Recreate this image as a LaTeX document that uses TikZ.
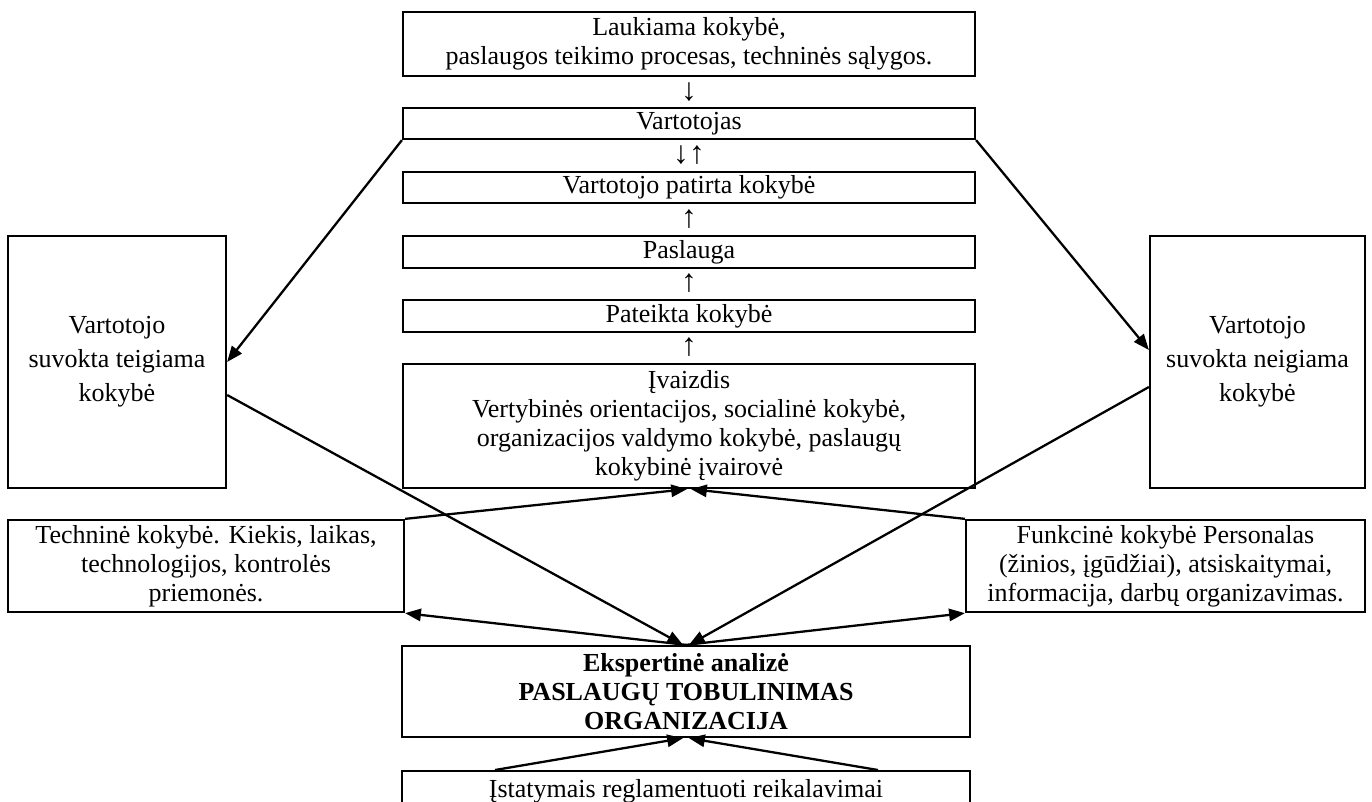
\documentclass[tikz,border=0pt]{standalone}
\usepackage{fontspec}
\setmainfont{Liberation Serif}
\usetikzlibrary{arrows.meta,positioning}

\begin{document}
\begin{tikzpicture}[
  x=0.02cm,y=-0.02cm,
  box/.style={draw,line width=1.3pt,inner sep=0pt,align=center,font=\fontsize{14.8}{16.6}\selectfont},
  midbox/.style={box,minimum width=11.44cm},
  sidebox/.style={box,minimum height=5.04cm,font=\fontsize{14.8}{19.4}\selectfont},
  arrow/.style={-{Triangle[length=9pt,width=7pt]},line width=1.3pt},
  glyph/.style={inner sep=0pt,font=\fontsize{18}{18}\selectfont}
]
\useasboundingbox (0,0) rectangle (1372,801);

% central column
\node[midbox,minimum height=1.28cm] (laukiama) at (689,44) {Laukiama kokybė,\\paslaugos teikimo procesas, techninės sąlygos.};
\node[midbox,minimum height=0.62cm] (vart) at (689,123.5) {Vartotojas};
\node[midbox,minimum height=0.62cm] (patirta) at (689,187.5) {Vartotojo patirta kokybė};
\node[midbox,minimum height=0.64cm] (paslauga) at (689,252) {Paslauga};
\node[midbox,minimum height=0.64cm] (pateikta) at (689,316) {Pateikta kokybė};
\node[midbox,minimum height=2.48cm] (ivaizdis) at (689,426) {Įvaizdis\\Vertybinės orientacijos, socialinė kokybė,\\organizacijos valdymo kokybė, paslaugų\\kokybinė įvairovė};

\node[glyph] (g1) at (689,92) {↓};
\node[glyph] (g2) at (689,155) {↓↑};
\node[glyph] (g3) at (689,219) {↑};
\node[glyph] (g4) at (689,283) {↑};
\node[glyph] (g5) at (689,347) {↑};

% side boxes
\node[sidebox,minimum width=4.36cm] (teig) at (117,362) {Vartotojo\\suvokta teigiama\\kokybė};
\node[sidebox,minimum width=4.30cm] (neig) at (1257.5,362) {Vartotojo\\suvokta neigiama\\kokybė};
\node[box,minimum width=7.92cm,minimum height=1.84cm] (tech) at (206,566) {Techninė kokybė. Kiekis, laikas,\\technologijos, kontrolės\\priemonės.};
\node[box,minimum width=7.98cm,minimum height=1.84cm] (funk) at (1165.5,566) {Funkcinė kokybė Personalas\\(žinios, įgūdžiai), atsiskaitymai,\\informacija, darbų organizavimas.};

% bottom
\node[box,minimum width=11.36cm,minimum height=1.82cm] (eksp) at (686,691.5) {\textbf{Ekspertinė analizė}\\\textbf{PASLAUGŲ TOBULINIMAS}\\\textbf{ORGANIZACIJA}};
\node[box,minimum width=11.36cm,minimum height=0.8cm,anchor=north] (istat) at (686,770) {Įstatymais reglamentuoti reikalavimai};

\draw[arrow] (vart.south west) -- (teig.east);
\draw[arrow] (vart.south east) -- ([yshift=0.24cm]neig.west);
\draw[arrow] ([yshift=-0.66cm]teig.east) -- ([xshift=-0.06cm]eksp.north);
\draw[arrow] ([yshift=-0.5cm]neig.west) -- ([xshift=0.06cm]eksp.north);
\draw[arrow] (tech.north east) -- ([xshift=-0.04cm]ivaizdis.south);
\draw[arrow] (funk.north west) -- ([xshift=0.04cm]ivaizdis.south);
\draw[arrow] (eksp.north) -- (tech.south east);
\draw[arrow] (eksp.north) -- (funk.south west);
\draw[arrow] ([xshift=-3.82cm]istat.north) -- ([xshift=-0.06cm]eksp.south);
\draw[arrow] ([xshift=3.84cm]istat.north) -- ([xshift=0.06cm]eksp.south);
\end{tikzpicture}
\end{document}
